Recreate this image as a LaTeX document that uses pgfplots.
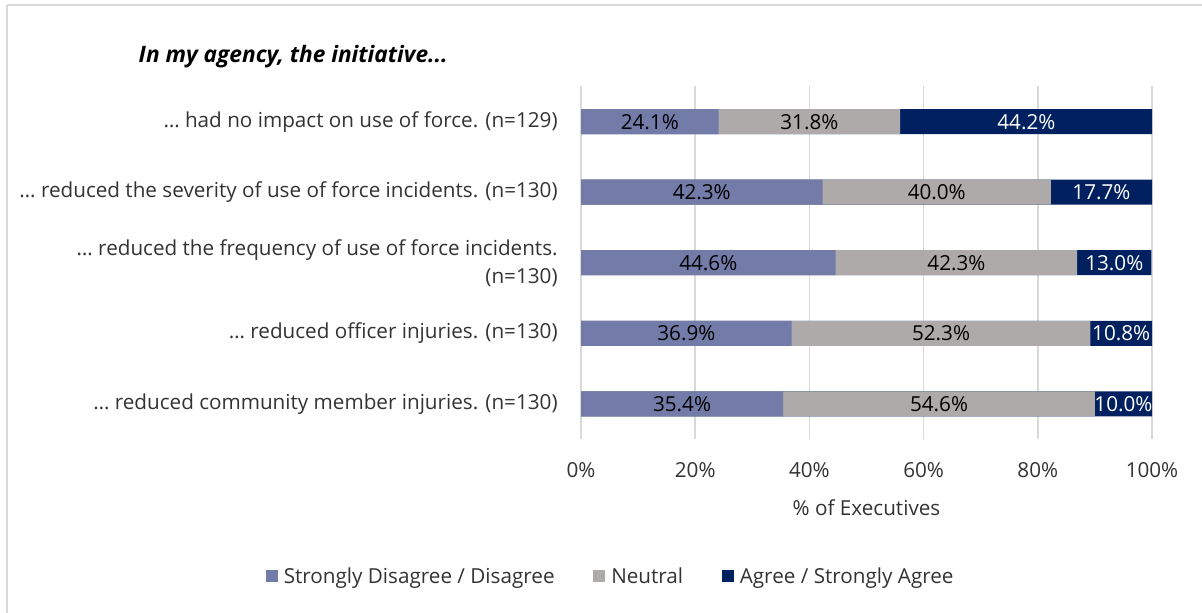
\documentclass[border=0pt]{standalone}
\usepackage{fontspec}
\setmainfont{Open Sans}
\usepackage{pgfplots}
\usepackage{pgfplotstable}
\pgfplotsset{compat=1.18}
\definecolor{cdis}{HTML}{737BA8}
\definecolor{cneu}{HTML}{AEAAAA}
\definecolor{cagr}{HTML}{002060}
\definecolor{cgrid}{HTML}{D9D9D9}
\pgfplotstableread{
y dis neu agr
0 24.1 31.8 44.2
1 42.3 40.0 17.7
2 44.6 42.3 13.0
3 36.9 52.3 10.8
4 35.4 54.6 10.0
}\datatable
\begin{document}
\begin{tikzpicture}[x=0.75pt,y=0.75pt]
\useasboundingbox (0,0) rectangle (1202,612);
\begin{scope}
\clip (0,0) rectangle (1202,612);
\draw[cgrid, line width=1.5pt] (6.5,607) -- (1230,607);
\draw[cgrid, line width=1.5pt] (6.5,607) -- (6.5,-20);
\end{scope}
\node[anchor=west, font=\fontsize{17}{19}\selectfont\bfseries\itshape] at (134,555) {In my agency, the initiative...};
\begin{axis}[
  at={(435.75pt,129.75pt)}, anchor=south west,
  scale only axis,
  width=428.25pt, height=264.4pt,
  xmin=0, xmax=100, ymin=-0.5, ymax=4.5,
  y dir=reverse,
  /pgf/number format/assume math mode=true,
  axis line style={draw=none},
  major tick style={draw=none},
  xmajorgrids, grid style={cgrid, line width=1.1pt},
  xtick={0,20,...,100},
  xticklabels={0\%,20\%,40\%,60\%,80\%,100\%},
  xticklabel style={font=\fontsize{15.5}{18}\selectfont, yshift=-14pt, color=black!80},
  ytick={0,1,2,3,4},
  yticklabels={{… had no impact on use of force. (n=129)},
               {… reduced the severity of use of force incidents. (n=130)},
               {… reduced the frequency of use of force incidents.\\(n=130)},
               {… reduced officer injuries. (n=130)},
               {… reduced community member injuries. (n=130)}},
  yticklabel style={font=\fontsize{15.5}{21}\selectfont, align=right, xshift=-14pt, color=black!80},
  xlabel={\% of Executives},
  xlabel style={font=\fontsize{15.5}{18}\selectfont, color=black!80, yshift=-10pt},
  bar width=18.75pt,
  legend style={at={(0.0525,-0.389)}, anchor=center, draw=none, legend columns=3,
    font=\fontsize{15.5}{18}\selectfont, text=black!80,
    /tikz/every odd column/.append style={column sep=2.5pt},
    /tikz/every even column/.append style={column sep=27pt}},
  legend cell align=left,
]
\addplot[xbar, bar shift=0pt, fill=cagr, draw=none, forget plot] table[y=y, x expr=\thisrow{dis}+\thisrow{neu}+\thisrow{agr}] {\datatable};
\addplot[xbar, bar shift=0pt, fill=cneu, draw=none, forget plot] table[y=y, x expr=\thisrow{dis}+\thisrow{neu}] {\datatable};
\addplot[xbar, bar shift=0pt, fill=cdis, draw=none, forget plot] table[y=y, x=dis] {\datatable};
% labels
\addplot[only marks, mark=none, forget plot, point meta=explicit,
  nodes near coords={\pgfmathprintnumber[fixed,fixed zerofill,precision=1]{\pgfplotspointmeta}\%},
  nodes near coords style={anchor=center, font=\fontsize{15.5}{18}\selectfont, text=black}]
  table[y=y, x expr=\thisrow{dis}/2, meta=dis] {\datatable};
\addplot[only marks, mark=none, forget plot, point meta=explicit,
  nodes near coords={\pgfmathprintnumber[fixed,fixed zerofill,precision=1]{\pgfplotspointmeta}\%},
  nodes near coords style={anchor=center, font=\fontsize{15.5}{18}\selectfont, text=black}]
  table[y=y, x expr=\thisrow{dis}+\thisrow{neu}/2, meta=neu] {\datatable};
\addplot[only marks, mark=none, forget plot, point meta=explicit,
  nodes near coords={\pgfmathprintnumber[fixed,fixed zerofill,precision=1]{\pgfplotspointmeta}\%},
  nodes near coords style={anchor=center, font=\fontsize{15.5}{18}\selectfont, text=white}]
  table[y=y, x expr=\thisrow{dis}+\thisrow{neu}+\thisrow{agr}/2, meta=agr] {\datatable};
% legend entries
\addlegendimage{area legend, fill=cdis, draw=none, legend image code/.code={\fill[cdis] (0pt,-4.5pt) rectangle (9pt,4.5pt);}}
\addlegendentry{Strongly Disagree / Disagree}
\addlegendimage{area legend, fill=cneu, draw=none, legend image code/.code={\fill[cneu] (0pt,-4.5pt) rectangle (9pt,4.5pt);}}
\addlegendentry{Neutral}
\addlegendimage{area legend, fill=cagr, draw=none, legend image code/.code={\fill[cagr] (0pt,-4.5pt) rectangle (9pt,4.5pt);}}
\addlegendentry{Agree / Strongly Agree}
\end{axis}
\end{tikzpicture}
\end{document}
